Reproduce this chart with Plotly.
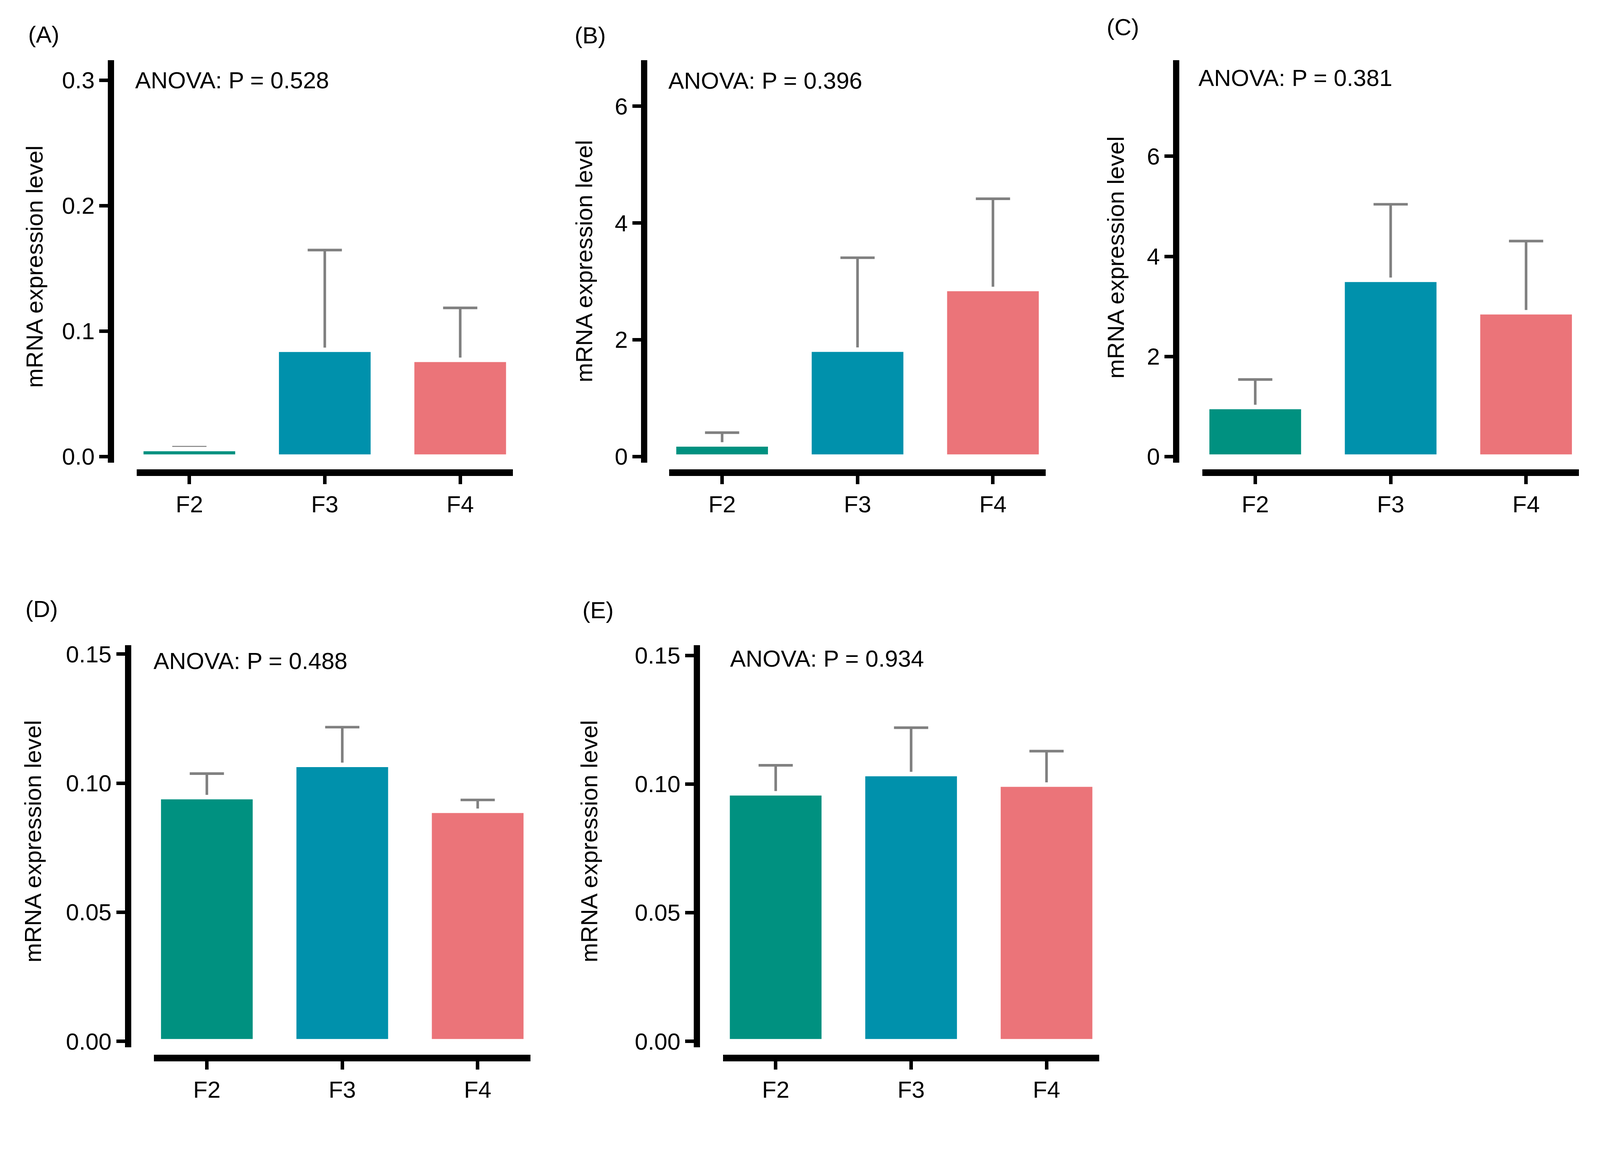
import plotly.graph_objects as go

categories = ["F2", "F3", "F4"]
bar_colors = ["#009180", "#0091AC", "#EB7479"]

panel_labels = ["(A)", "(B)", "(C)", "(D)", "(E)"]
anova_texts = ["ANOVA: P = 0.528", "ANOVA: P = 0.396", "ANOVA: P = 0.381",
               "ANOVA: P = 0.488", "ANOVA: P = 0.934"]

means_A = [0.0060, 0.0851, 0.0771]
upper_A = [0.0075, 0.1646, 0.1185]
means_B = [0.208, 1.831, 2.869]
upper_B = [0.410, 3.405, 4.414]
means_C = [0.990, 3.532, 2.884]
upper_C = [1.540, 5.041, 4.306]
means_D = [0.0946, 0.1071, 0.0893]
upper_D = [0.1037, 0.1217, 0.0935]
means_E = [0.0964, 0.1039, 0.0998]
upper_E = [0.1073, 0.1219, 0.1128]

ticks_A = [0, 0.1, 0.2, 0.3]
ticks_B = [0, 2, 4, 6]
ticks_C = [0, 2, 4, 6]
ticks_D = [0, 0.05, 0.10, 0.15]
ticks_E = [0, 0.05, 0.10, 0.15]

y_title = "mRNA expression level"

# target picture is 4307 x 2994; the page is rendered with a small zoom and body margin
REF_W, REF_H = 4307, 2994
Z = 1.05
MARG = 8
W = REF_W / Z - 2 * MARG
H = REF_H / Z - 2 * MARG


def px(v):
    return v / Z - MARG


def sz(v):
    return v / Z


def fx(v):
    return px(v) / W


def fy(v):
    return 1 - px(v) / H


FONT = "Liberation Sans, Arial, sans-serif"
FS = sz(63)

panels = [
    dict(means=means_A, upper=upper_A, ticks=ticks_A, fmt=".1f", yline=298.5, c1=509,
         ytop=153, ybot=1245, xline=1272, yr=[-0.00484, 0.3158],
         lab=(74, 83), anova=(361, 207.5), ytit=(92.5, 713)),
    dict(means=means_B, upper=upper_B, ticks=ticks_B, fmt="d", yline=1731.5, c1=1941,
         ytop=153, ybot=1245, xline=1272, yr=[-0.104, 6.785],
         lab=(1542, 85), anova=(1794, 208), ytit=(1570, 698)),
    dict(means=means_C, upper=upper_C, ticks=ticks_C, fmt="d", yline=3162, c1=3374,
         ytop=153, ybot=1245, xline=1272, yr=[-0.1215, 7.918],
         lab=(2972, 63), anova=(3219, 201), ytit=(3000, 688)),
    dict(means=means_D, upper=upper_D, ticks=ticks_D, fmt=".2f", yline=344, c1=556,
         ytop=1740, ybot=2832, xline=2860, yr=[-0.00237, 0.15352],
         lab=(66, 1642), anova=(411, 1783), ytit=(88, 2273)),
    dict(means=means_E, upper=upper_E, ticks=ticks_E, fmt=".2f", yline=1873, c1=2085,
         ytop=1740, ybot=2832, xline=2860, yr=[-0.00238, 0.15405],
         lab=(1563, 1645), anova=(1960, 1777), ytit=(1583, 2273)),
]

SP = 364  # reference px per category
fig = go.Figure()
layout = dict(width=W, height=H, margin=dict(l=0, r=0, t=0, b=0),
              paper_bgcolor="white", plot_bgcolor="white", showlegend=False,
              barmode="overlay", font=dict(family=FONT, size=FS, color="black"))
annotations = []

for i, p in enumerate(panels):
    n = "" if i == 0 else str(i + 1)
    xa, ya = "x" + n, "y" + n
    err = [u - m for u, m in zip(p["upper"], p["means"])]
    fig.add_trace(go.Bar(x=categories, y=p["means"], xaxis=xa, yaxis=ya, width=0.71,
                         marker=dict(color="rgba(0,0,0,0)", line=dict(width=0)),
                         error_y=dict(type="data", array=err, arrayminus=[0] * 3,
                                      symmetric=False, color="#808080",
                                      thickness=sz(7), width=sz(46)),
                         hoverinfo="skip"))
    fig.add_trace(go.Bar(x=categories, y=p["means"], xaxis=xa, yaxis=ya, width=0.71,
                         marker=dict(color=bar_colors,
                                     line=dict(color="white", width=sz(12)))))
    x0 = p["c1"] - 0.39 * SP
    x1 = p["c1"] + 2 * SP + 0.39 * SP
    layout["xaxis" + n] = dict(domain=[fx(x0), fx(x1)], anchor="free",
                               position=fy(p["xline"]), range=[-0.39, 2.39],
                               showline=True, linewidth=sz(18), linecolor="black",
                               ticks="outside", ticklen=sz(22), tickwidth=sz(9),
                               tickcolor="black",
                               tickfont=dict(family=FONT, size=FS, color="black"),
                               showgrid=False, zeroline=False, fixedrange=True)
    layout["yaxis" + n] = dict(domain=[fy(p["ybot"]), fy(p["ytop"])], anchor="free",
                               position=fx(p["yline"]), range=p["yr"],
                               tickvals=p["ticks"], tickformat=p["fmt"],
                               showline=True, linewidth=sz(17), linecolor="black",
                               ticks="outside", ticklen=sz(23), tickwidth=sz(9),
                               tickcolor="black",
                               tickfont=dict(family=FONT, size=FS, color="black"),
                               showgrid=False, zeroline=False, fixedrange=True)
    annotations.append(dict(text=panel_labels[i], xref="paper", yref="paper",
                            x=fx(p["lab"][0]), y=fy(p["lab"][1]),
                            xanchor="left", yanchor="middle", showarrow=False,
                            font=dict(family=FONT, size=FS, color="black")))
    annotations.append(dict(text=anova_texts[i], xref="paper", yref="paper",
                            x=fx(p["anova"][0]), y=fy(p["anova"][1]),
                            xanchor="left", yanchor="middle", showarrow=False,
                            font=dict(family=FONT, size=FS, color="black")))
    annotations.append(dict(text=y_title, xref="paper", yref="paper", textangle=-90,
                            x=fx(p["ytit"][0]), y=fy(p["ytit"][1]),
                            xanchor="center", yanchor="middle", showarrow=False,
                            font=dict(family=FONT, size=FS, color="black")))

layout["annotations"] = annotations
fig.update_layout(**layout)
fig.write_html("out.html")
